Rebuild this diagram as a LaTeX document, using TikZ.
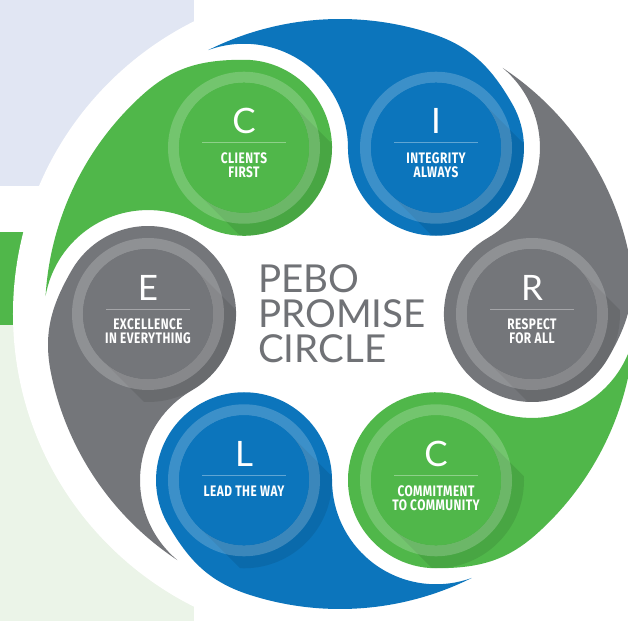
\documentclass[tikz,border=0pt]{standalone}
\usepackage{fontspec}
\usetikzlibrary{calc}
\newfontfamily\thinFont{Lato}
\newfontfamily\labelFont{Fira Sans}[FakeStretch=0.78,LetterSpace=3]

\begin{document}
\begin{tikzpicture}[x=1pt,y=1pt,
  letterText/.style={text=white,inner sep=0pt,anchor=base,font=\thinFont\fontsize{35}{35}\selectfont},
  valueText/.style={text=white,inner sep=0pt,anchor=north,align=center,font=\labelFont\bfseries\fontsize{15.2}{14}\selectfont},
  titleText/.style={text=titleGray,inner sep=0pt,anchor=base west,font=\thinFont\fontsize{38.5}{38.5}\selectfont}]
\definecolor{greenFill}{RGB}{80,183,74}
\definecolor{blueFill}{RGB}{12,117,188}
\definecolor{grayFill}{RGB}{116,118,122}
\definecolor{titleGray}{RGB}{112,114,118}
\definecolor{paleBlue}{RGB}{225,230,243}
\definecolor{paleGreen}{RGB}{235,244,232}

\path[use as bounding box] (-340,-307) rectangle (288,314);
\clip (-340,-307) rectangle (288,314);

% page backdrop
\fill[paleBlue] (-340,128) rectangle (-146,314);
\fill[greenFill] (-340,-11) rectangle (-290,82);
\fill[paleGreen] (-340,-307) rectangle (-146,-11);
\fill[white] (0,0) circle (327);

% one comma shape per value
\foreach \a/\col/\ltr/\txt [count=\i] in {
  120/greenFill/C/{CLIENTS\\FIRST},
  60/blueFill/I/{INTEGRITY\\ALWAYS},
  0/grayFill/R/{RESPECT\\FOR ALL},
  -60/greenFill/C/{COMMITMENT\\TO COMMUNITY},
  -120/blueFill/L/{LEAD THE WAY},
  180/grayFill/E/{EXCELLENCE\\IN EVERYTHING}}{
  \pgfmathsetmacro\tipAng{\a+56.54}
  \pgfmathsetmacro\outAng{\a+60}
  \pgfmathsetmacro\inAng{\a+282}
  \coordinate (ctr\i) at (\a:192);
  \fill[\col] (\a+12:295) arc[start angle=\a+12, end angle=\tipAng, radius=295]
    arc[start angle=\a+50.12, end angle=\a-60, radius=104]
    arc[start angle=\a+120, end angle=\a+330, radius=88]
    to[out=\outAng, in=\inAng] (\a+12:295) -- cycle;
  \begin{scope}
    \clip (ctr\i) circle (88);
    \fill[black,opacity=0.09] ($(ctr\i)+(45:65)$) -- ++(-45:130) -- ++(225:130)
      -- ($(ctr\i)+(225:65)$) -- cycle;
  \end{scope}
  \fill[white,opacity=0.2,even odd rule] (ctr\i) circle (76) (ctr\i) circle (65);
  \fill[\col] (ctr\i) circle (65);
  \draw[white,opacity=0.35,line width=0.9pt] ($(ctr\i)+(-42,5)$) -- ($(ctr\i)+(42,5)$);
  \node[letterText] (letter\i) at ($(ctr\i)+(0,14)$) {\ltr};
  \node[valueText] (value\i) at ($(ctr\i)+(0,-5)$) {\txt};
}

% centre title
\node[titleText] (titlePebo) at (-82,22) {PEBO};
\node[titleText] (titlePromise) at (-82,-13) {PROMISE};
\node[titleText] (titleCircle) at (-82,-48) {CIRCLE};
\end{tikzpicture}
\end{document}
